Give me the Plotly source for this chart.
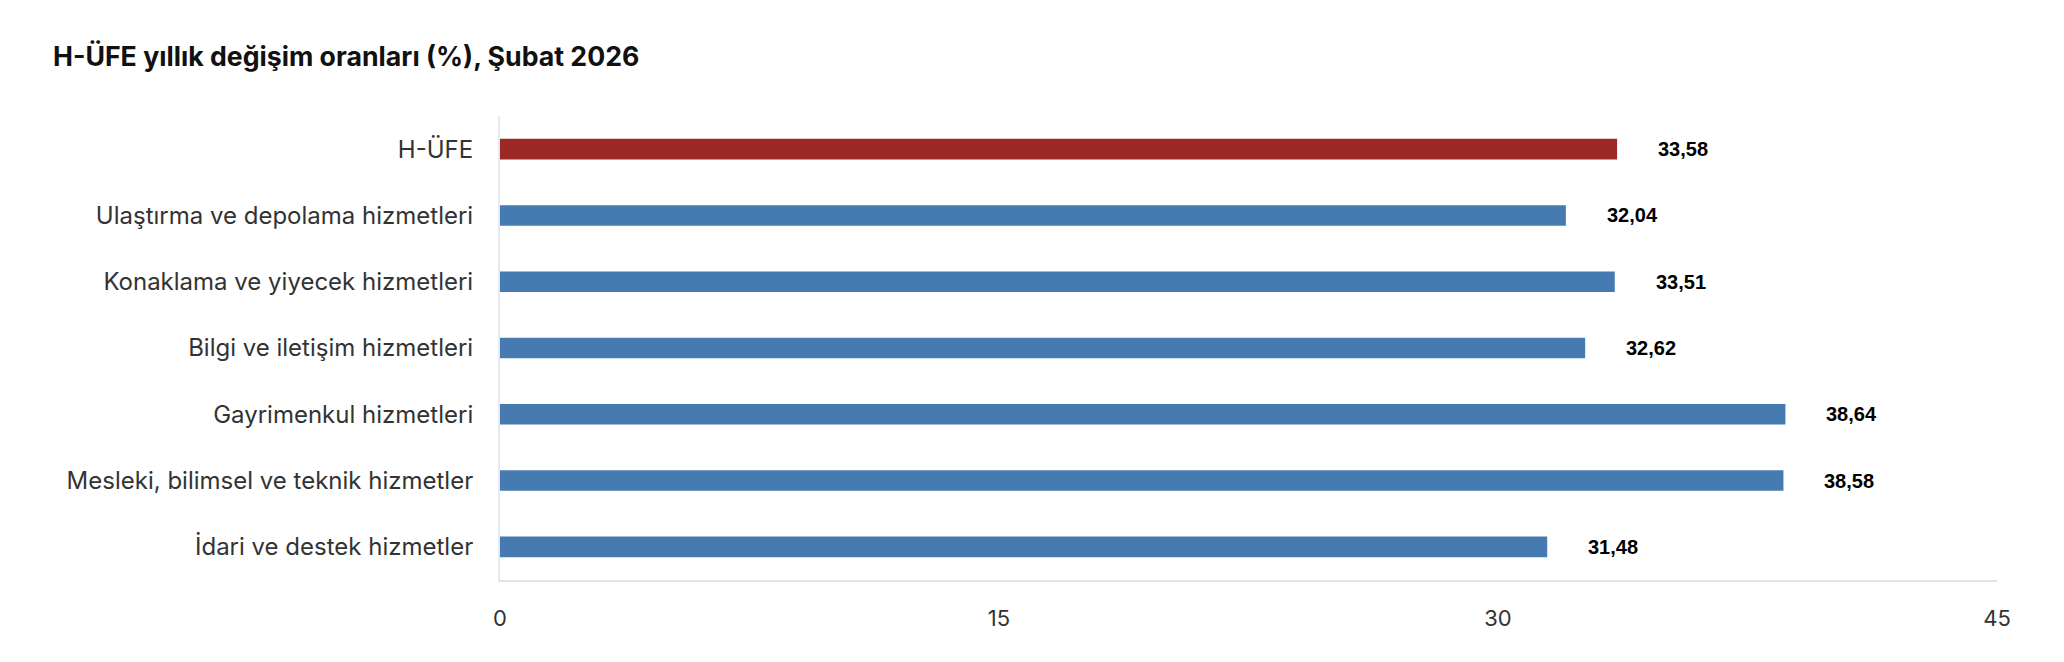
import plotly.graph_objects as go

categories = [
    "H-ÜFE",
    "Ulaştırma ve depolama hizmetleri",
    "Konaklama ve yiyecek hizmetleri",
    "Bilgi ve iletişim hizmetleri",
    "Gayrimenkul hizmetleri",
    "Mesleki, bilimsel ve teknik hizmetler",
    "İdari ve destek hizmetler",
]
values = [33.58, 32.04, 33.51, 32.62, 38.64, 38.58, 31.48]
x_ticks = [0, 15, 30, 45]
title_text = "H-ÜFE yıllık değişim oranları (%), Şubat 2026"

RED = "#9c2826"
BLUE = "#467bb1"
colors = [RED] + [BLUE] * (len(categories) - 1)

fig = go.Figure(
    go.Bar(
        x=values,
        y=categories,
        orientation="h",
        width=0.31,
        marker=dict(color=colors, line=dict(width=0)),
        hoverinfo="x+y",
    )
)

for c, v in zip(categories, values):
    fig.add_annotation(
        x=v, y=c, xref="x", yref="y",
        text=f"{v:.2f}".replace(".", ","),
        showarrow=False, xanchor="left", yanchor="middle",
        xshift=39,
        font=dict(family="Liberation Sans", size=20, color="#000000", weight="bold"),
    )

fig.update_layout(
    width=2064, height=662,
    margin=dict(l=500, r=67, t=116, b=82),
    paper_bgcolor="white", plot_bgcolor="white",
    showlegend=False,
    title=dict(
        text=title_text,
        x=53 / 2064, xanchor="left", xref="container",
        y=1 - 57 / 662, yanchor="middle", yref="container",
        font=dict(family="Inter", size=26.7, color="#111111", weight="bold"),
    ),
    xaxis=dict(
        range=[0, 45], tickvals=x_ticks, showgrid=False, zeroline=False,
        showline=True, linecolor="#e3e3e3", linewidth=2,
        ticks="", ticklabelstandoff=18,
        tickfont=dict(family="Inter", size=22, color="#333333"),
    ),
    yaxis=dict(
        autorange="reversed", showgrid=False, zeroline=False,
        showline=True, linecolor="#e6e9ef", linewidth=2,
        ticks="", ticklabelstandoff=20,
        tickfont=dict(family="Inter", size=24, color="#333333"),
    ),
)

fig.write_html(
    "out.html",
    config={"displayModeBar": False},
    post_script="document.body.style.margin='0';document.body.style.overflow='hidden';",
)
